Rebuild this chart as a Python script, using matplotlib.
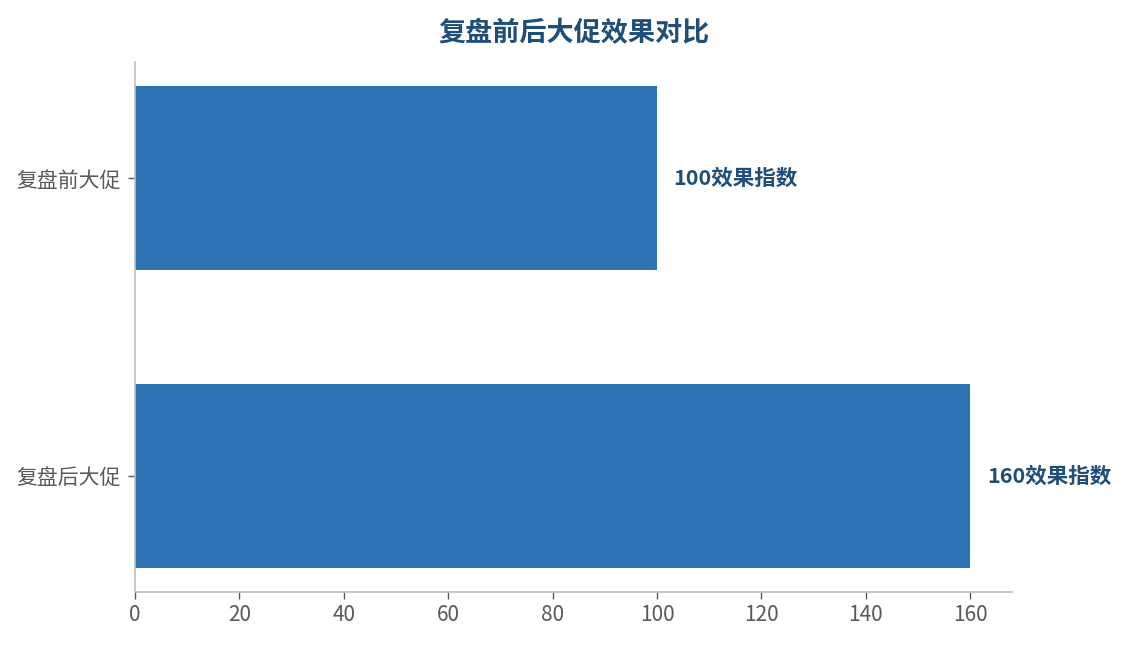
import matplotlib
matplotlib.use("Agg")
import matplotlib.pyplot as plt

plt.rcParams['font.family'] = ['Noto Sans CJK SC', 'DejaVu Sans']

categories = ['复盘前大促', '复盘后大促']
values = [100, 160]
label_suffix = '效果指数'
title = '复盘前后大促效果对比'
xticks = [0, 20, 40, 60, 80, 100, 120, 140, 160]

bar_color = '#2E74B5'
title_color = '#1F4E79'
tick_color = '#595959'
spine_color = '#BFBFBF'

fig = plt.figure(figsize=(11.25, 6.45), dpi=100)
ax = fig.add_axes([0.12, 0.0822, 0.7796, 0.8217])

ypos = list(range(len(categories)))
ax.barh(ypos, values, height=0.62, color=bar_color)
ax.set_yticks(ypos)
ax.set_yticklabels(categories)
ax.set_ylim(len(categories) - 1 + 0.39, -0.39)
ax.set_xlim(0, 168)
ax.set_xticks(xticks)

for y, v in zip(ypos, values):
    ax.annotate(f'{v}{label_suffix}', xy=(v, y), xytext=(12, 0), textcoords='offset points',
                va='center', ha='left', fontsize=15.5, fontweight='bold', color=title_color)

for s in ['top', 'right']:
    ax.spines[s].set_visible(False)
for s in ['left', 'bottom']:
    ax.spines[s].set_color(spine_color)
    ax.spines[s].set_linewidth(1.2)

ax.tick_params(axis='both', colors=tick_color, labelsize=15, length=5, width=1)
ax.tick_params(axis='y', pad=5)
ax.tick_params(axis='x', pad=4)

ax.set_title(title, fontsize=19.5, fontweight='bold', color=title_color, pad=15)

fig.savefig('out.png', dpi=100)
